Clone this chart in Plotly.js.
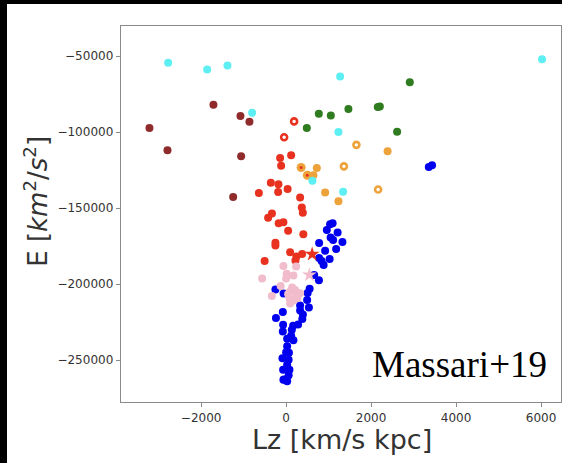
<!DOCTYPE html>
<html>
<head>
<meta charset="utf-8">
<script src="https://cdn.plot.ly/plotly-3.0.1.min.js"></script>
<style>
html,body{margin:0;padding:0;background:#000;width:562px;height:463px;overflow:hidden;}
#plot{position:absolute;left:7px;top:4px;width:555px;height:459px;background:#fff;}
</style>
</head>
<body>
<div id="plot"></div>
<script>
// ---- data (Lz [km/s kpc], E [km^2/s^2]) ----
const cyanLz = [-2777, -1859, -1381, -800, 1271, 1231, 619, 1341, 6024];
const cyanE  = [-54400, -58700, -56100, -87250, -63340, -99930, -131930, -139150, -51970];

const brownLz = [-3217, -2793, -1711, -1075, -864, -1059, -1247];
const brownE  = [-97300, -111950, -82000, -89420, -93170, -115900, -142640];

const greenLz = [2911, 769, 1052, 1466, 2158, 2205, 487, 2612];
const greenE  = [-67080, -87910, -88960, -84820, -83510, -83050, -97300, -99740];

const redLz = [118, -141, -118, -360, -181, 35, -188, -642, 329, 369, 393, -334, -424, -176, -64, 47, 405, -252, -252, 94, 376, 242, 219, -506];
const redE  = [-115240, -117010, -122070, -133310, -134290, -137380, -139350, -140010, -142970, -149540, -152950, -153480, -156240, -159850, -159190, -164840, -167140, -172660, -174500, -178970, -180090, -181730, -184360, -184690];

const redRingLz = [188, -47];
const redRingE  = [-92900, -103350];

const redStarLz = [612];
const redStarE  = [-180280];

const orangeLz = [722, 642, 918, 1231, 2388];
const orangeE  = [-123580, -128310, -139680, -145460, -112610];

const orangeRingLz = [1654, 1360, 2165];
const orangeRingE  = [-108340, -122470, -137710];

const orangeRedLz = [353, 499];
const orangeRedE  = [-123260, -128310];

const blueLz = [3358, 3435,
  1094, 1035, 1212, 958, 1047, 1106, 1325, 776, 1177, 918, 776, 1024, 835, 882, 659, 772,
  553, 506, -252, -59, 494, 329, 536, 329, 395, -78, -240, 381, 282, 165, -71, -78, 134,
  118, 24, 172, 24, 0, 66, -87, 59, 24, -71, 78, 59, -47, 24, -64];
const blueE  = [-122930, -121810,
  -159920, -160570, -165960, -164320, -169250, -170890, -172200, -172860, -176800, -177920, -182710, -183370, -184690, -187310, -193880, -197370,
  -202950, -205710, -203540, -206170, -210310, -213920, -215240, -217210, -219840, -218190, -222270, -222790, -226410, -227390, -226730, -231140, -230020,
  -233960, -235930, -236920, -240860, -244800, -245130, -248740, -249730, -253010, -256300, -256300, -259910, -262670, -263850, -262870];

const pinkLz = [-64, 235, 12, 0, 172, -565, -129, 141, -336, 94, 212, 252, 78, 172, 94, 266, 329, 47];
const pinkE  = [-187970, -188300, -193100, -196310, -194210, -196310, -201110, -202100, -207680, -204860, -203740, -207020, -209190, -210640, -212610, -209190, -205910, -206370];

const pinkStarLz = [548];
const pinkStarE  = [-193880];

const xTicks = [-2000, 0, 2000, 4000, 6000];
const yTicks = [-50000, -100000, -150000, -200000, -250000];

// ---- styles ----
const C = {
  cyan: '#5eeff3', brown: '#8f2b2b', green: '#2f7b20', red: '#e8321f',
  orange: '#eda23a', blue: '#0000ee', pink: '#f1bccb'
};
function dots(x, y, color, size) {
  return {x: x, y: y, type: 'scatter', mode: 'markers', hoverinfo: 'skip',
    marker: {color: color, size: size || 8, line: {width: 0}}};
}
function rings(x, y, color) {
  return {x: x, y: y, type: 'scatter', mode: 'markers', hoverinfo: 'skip',
    marker: {color: '#ffffff', size: 6, line: {color: color, width: 2.6}}};
}
function stars(x, y, color) {
  return {x: x, y: y, type: 'scatter', mode: 'markers', hoverinfo: 'skip',
    marker: {symbol: 'star', color: color, size: 11, line: {width: 0}}};
}

const data = [
  dots(blueLz, blueE, C.blue),
  dots(brownLz, brownE, C.brown),
  dots(greenLz, greenE, C.green),
  dots(redLz, redE, C.red),
  rings(redRingLz, redRingE, C.red),
  dots(orangeLz, orangeE, C.orange),
  rings(orangeRingLz, orangeRingE, C.orange),
  dots(orangeRedLz, orangeRedE, C.orange, 9),
  dots(orangeRedLz, orangeRedE, C.red, 3),
  dots(cyanLz, cyanE, C.cyan),
  dots(pinkLz, pinkE, C.pink),
  stars(redStarLz, redStarE, C.red),
  stars(pinkStarLz, pinkStarE, C.pink)
];

const axisCommon = {
  showgrid: false, zeroline: false, showline: true, mirror: true,
  linecolor: '#8a8a8a', linewidth: 1.3, ticks: 'outside', ticklen: 4,
  tickwidth: 1, tickcolor: '#8a8a8a', exponentformat: 'none', tickformat: 'd',
  tickfont: {family: 'DejaVu Sans', size: 12, color: '#333333'}
};

const layout = {
  width: 555, height: 459,
  margin: {l: 114, r: 1, t: 22, b: 61},
  paper_bgcolor: '#ffffff', plot_bgcolor: '#ffffff',
  showlegend: false,
  xaxis: Object.assign({}, axisCommon, {range: [-3887, 6470], tickmode: 'array', tickvals: xTicks}),
  yaxis: Object.assign({}, axisCommon, {range: [-277460, -30160], tickmode: 'array', tickvals: yTicks}),
  annotations: [
    {text: 'Lz [km/s kpc]', xref: 'paper', yref: 'paper', x: 0.502, y: -0.1, xanchor: 'center', yanchor: 'middle',
     showarrow: false, font: {family: 'DejaVu Sans', size: 27, color: '#333333'}},
    {text: 'E [<i>km</i><sup>2</sup>/<i>s</i><sup>2</sup>]', xref: 'paper', yref: 'paper', x: -0.195, y: 0.533,
     xanchor: 'center', yanchor: 'middle', textangle: -90, showarrow: false,
     font: {family: 'DejaVu Sans', size: 26, color: '#333333'}},
    {text: 'Massari+19', xref: 'paper', yref: 'paper', x: 0.972, y: 0.04, xanchor: 'right', yanchor: 'bottom',
     showarrow: false, font: {family: 'Liberation Serif', size: 37, color: '#000000'}}
  ]
};

Plotly.newPlot('plot', data, layout, {staticPlot: true, displayModeBar: false});
</script>
</body>
</html>
